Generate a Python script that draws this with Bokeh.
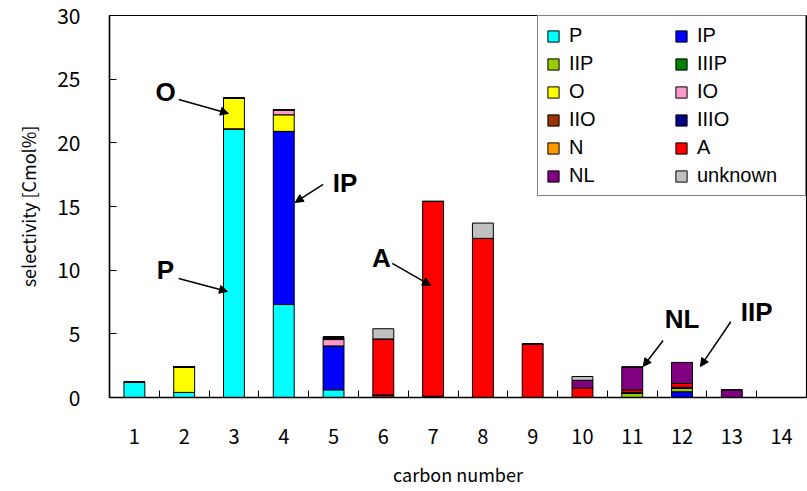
from bokeh.plotting import figure
from bokeh.models import ColumnDataSource, FixedTicker, Legend, LegendItem, Label, Arrow, NormalHead
from bokeh.embed import file_html
from bokeh.resources import INLINE

# ---------------- data ----------------
carbon = list(range(1, 15))
tick_labels = [str(c) for c in carbon]

series_names = ["P", "IP", "IIP", "IIIP", "O", "IO", "IIO", "IIIO", "N", "A", "NL", "unknown"]
series_colors = ["#00FFFF", "#0000FF", "#99CC00", "#008000", "#FFFF00", "#FF99CC",
                 "#993300", "#000080", "#FF9900", "#FF0000", "#800080", "#C0C0C0"]

P       = [1.2, 0.4, 21.1, 7.3, 0.6, 0, 0, 0, 0, 0, 0, 0, 0, 0]
IP      = [0, 0, 0, 13.6, 3.45, 0, 0, 0, 0, 0, 0, 0.45, 0, 0]
IIP     = [0, 0, 0, 0, 0, 0, 0, 0, 0, 0, 0.35, 0.3, 0, 0]
IIIP    = [0, 0, 0, 0, 0, 0, 0, 0, 0, 0, 0, 0, 0, 0]
O       = [0, 2.0, 2.4, 1.3, 0, 0, 0, 0, 0, 0, 0, 0, 0, 0]
IO      = [0, 0, 0, 0.4, 0.5, 0, 0, 0, 0, 0, 0, 0, 0, 0]
IIO     = [0, 0, 0, 0, 0.1, 0.2, 0.1, 0, 0, 0, 0, 0, 0, 0]
IIIO    = [0, 0, 0, 0, 0.1, 0, 0, 0, 0, 0, 0.05, 0, 0, 0]
N       = [0, 0, 0, 0, 0, 0, 0, 0, 0, 0, 0, 0.05, 0, 0]
A       = [0, 0, 0, 0, 0, 4.4, 15.3, 12.5, 4.2, 0.75, 0.2, 0.3, 0, 0]
NL      = [0, 0, 0, 0, 0, 0, 0, 0, 0, 0.6, 1.8, 1.65, 0.6, 0]
unknown = [0, 0, 0, 0, 0, 0.8, 0, 1.2, 0, 0.3, 0, 0, 0, 0]

series_values = [P, IP, IIP, IIIP, O, IO, IIO, IIIO, N, A, NL, unknown]

# annotations (data coordinates)
ann_text = ["O", "P", "IP", "A", "NL", "IIP"]
ann_x = [1.625, 1.625, 5.23, 5.96, 12.0, 13.5]
ann_y = [23.96, 9.98, 16.81, 10.92, 6.2, 6.7]
arr_x0 = [1.89, 1.89, 4.79, 6.18, 11.62, 12.98]
arr_y0 = [23.41, 9.35, 16.73, 10.53, 4.48, 5.95]
arr_x1 = [2.89, 2.87, 4.23, 6.95, 11.22, 12.37]
arr_y1 = [22.31, 8.33, 15.32, 8.80, 2.44, 2.44]

# ---------------- figure ----------------
FONT = "Noto Sans CJK JP"

data = {"carbon": carbon}
for n, v in zip(series_names, series_values):
    data[n] = v
source = ColumnDataSource(data)

p = figure(width=807, height=491, x_range=(0.5, 14.5), y_range=(0, 30),
           output_backend="svg", toolbar_location=None,
           min_border_left=109, min_border_right=1, min_border_top=15, min_border_bottom=94)

renderers = p.vbar_stack(series_names, x="carbon", width=0.42, color=series_colors,
                         line_color="black", line_width=1, source=source)

p.xgrid.visible = False
p.ygrid.visible = False
p.outline_line_color = "black"
p.outline_line_width = 1.2
p.background_fill_color = "white"
p.border_fill_color = "white"

# x axis
xa = p.xaxis[0]
xa.ticker = FixedTicker(ticks=carbon, minor_ticks=[c + 0.5 for c in carbon[:-1]])
xa.major_label_overrides = {c: t for c, t in zip(carbon, tick_labels)}
xa.major_tick_in = 0
xa.major_tick_out = 0
xa.minor_tick_in = 7
xa.minor_tick_out = 0
xa.minor_tick_line_color = "black"
xa.axis_line_color = "black"
xa.axis_line_width = 1.5
xa.major_label_standoff = 31
xa.major_label_text_font = FONT
xa.major_label_text_font_size = "20px"
xa.major_label_text_color = "black"
xa.axis_label = "carbon number"
xa.axis_label_text_font = FONT
xa.axis_label_text_font_size = "18px"
xa.axis_label_text_font_style = "normal"
xa.axis_label_text_color = "black"
xa.axis_label_standoff = 14

# y axis
ya = p.yaxis[0]
ya.ticker = FixedTicker(ticks=[0, 5, 10, 15, 20, 25, 30], minor_ticks=[])
ya.major_tick_in = 7
ya.major_tick_out = 0
ya.minor_tick_in = 0
ya.minor_tick_out = 0
ya.axis_line_color = "black"
ya.axis_line_width = 1.5
ya.major_label_standoff = 29
ya.major_label_text_font = FONT
ya.major_label_text_font_size = "21px"
ya.major_label_text_color = "black"
ya.axis_label = "selectivity [Cmol%]"
ya.axis_label_text_font = FONT
ya.axis_label_text_font_size = "18px"
ya.axis_label_text_font_style = "normal"
ya.axis_label_text_color = "black"
ya.axis_label_standoff = 13

# legend
items = [LegendItem(label=n, renderers=[r]) for n, r in zip(series_names, renderers)]
legend = Legend(items=items, location="top_right", orientation="horizontal", ncols=2,
                border_line_color="black", border_line_width=1.2,
                background_fill_color="white", background_fill_alpha=1.0,
                label_text_font="Liberation Sans", label_text_font_size="20px",
                label_text_color="black",
                glyph_width=14, glyph_height=14, label_standoff=9,
                label_width=100, label_height=20, spacing=5, padding=8, margin=0)
p.add_layout(legend)

# annotations
for t, x, y in zip(ann_text, ann_x, ann_y):
    p.add_layout(Label(x=x, y=y, text=t, text_align="center", text_baseline="middle",
                       text_font="Liberation Sans", text_font_size="26px",
                       text_font_style="bold", text_color="black"))
for x0, y0, x1, y1 in zip(arr_x0, arr_y0, arr_x1, arr_y1):
    p.add_layout(Arrow(end=NormalHead(size=8, fill_color="black", line_color="black"),
                       x_start=x0, y_start=y0, x_end=x1, y_end=y1,
                       line_color="black", line_width=1.5))

open("out.html", "w").write(file_html(p, INLINE))
